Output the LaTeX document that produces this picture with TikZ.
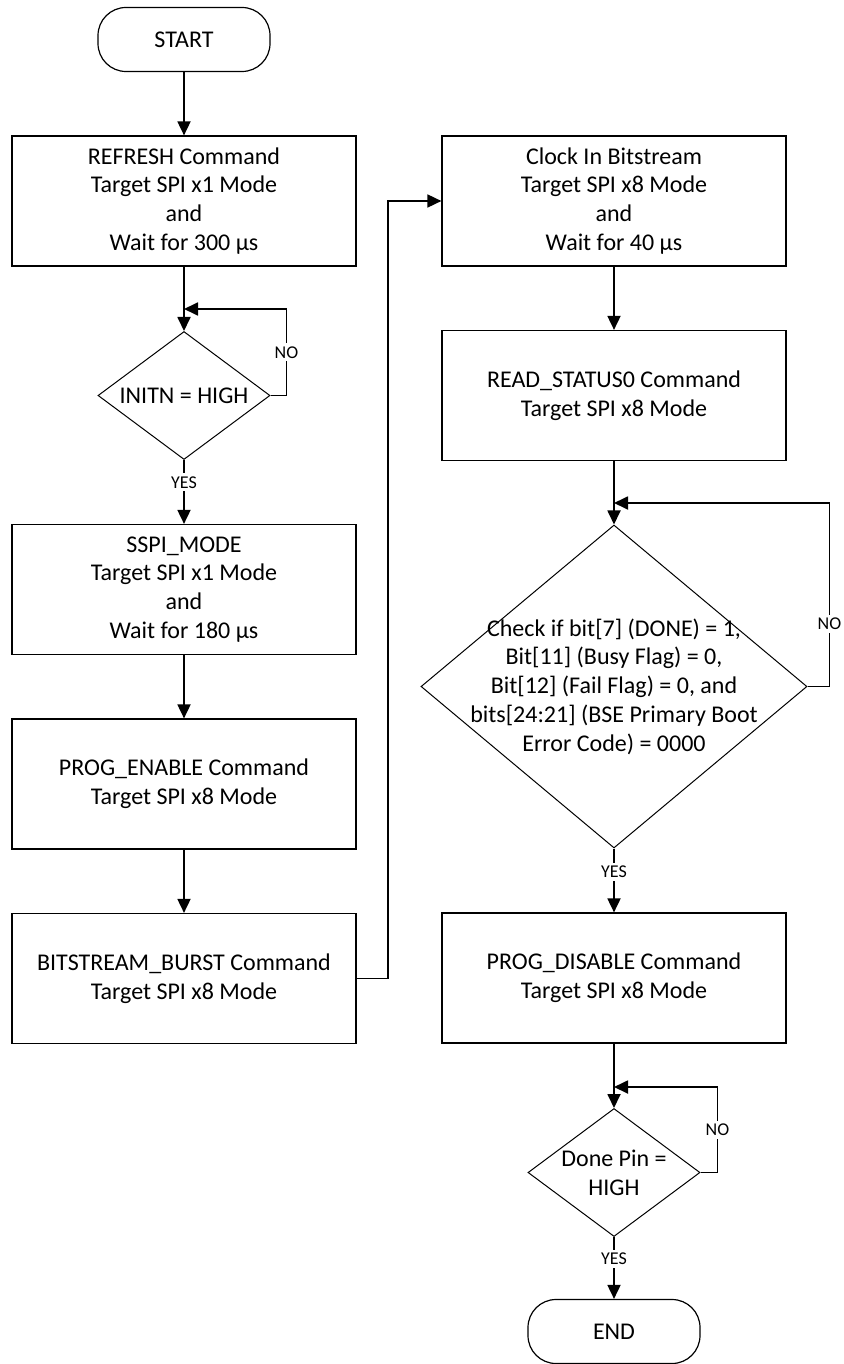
\documentclass[tikz,border=0pt]{standalone}
\usepackage{fontspec}
\setmainfont{Carlito}
\usepackage{tikz}
\usetikzlibrary{shapes.geometric}
\usetikzlibrary{arrows.meta}
\tikzset{txt/.style={align=center,font=\fontsize{12}{14.4}\selectfont},
         block/.style={txt,draw,line width=0.6pt,minimum width=172pt,minimum height=65pt},
         terminal/.style={block,rounded corners=14pt,minimum width=86pt,minimum height=32pt},
         decision/.style={txt,draw,line width=0.5pt,diamond,aspect=1.34,inner sep=0pt,minimum width=86pt,minimum height=64pt},
         arr/.style={-{Triangle[length=7pt,width=6.5pt]},line width=0.9pt},
         yesno/.style={fill=white,inner sep=1.5pt,font=\fontsize{9}{10}\selectfont}}

\begin{document}
\begin{tikzpicture}[x=0.5pt,y=-0.5pt]
\useasboundingbox (0,0) rectangle (843,1364);
\node[terminal] (start) at (184,39.5) {START};
\node[block] (refresh) at (184,201) {REFRESH Command\\Target SPI x1 Mode\\and\\Wait for 300 µs};
\node[decision] (initn) at (184,395.5) {INITN = HIGH};
\node[block] (sspi) at (184,589.5) {SSPI\_MODE\\Target SPI x1 Mode\\and\\Wait for 180 µs};
\node[block] (progen) at (184,784) {PROG\_ENABLE Command\\Target SPI x8 Mode};
\node[block] (burst) at (184,978.5) {BITSTREAM\_BURST Command\\Target SPI x8 Mode};
\node[block] (clock) at (614,201) {Clock In Bitstream\\Target SPI x8 Mode\\and\\Wait for 40 µs};
\node[block] (rdst) at (614,395.5) {READ\_STATUS0 Command\\Target SPI x8 Mode};
\node[decision,aspect=1.2,minimum width=193pt,minimum height=161.5pt] (chk) at (614,686.5) {};
\node[txt] (chktxt) at (chk) {Check if bit[7] (DONE) = 1,\\Bit[11] (Busy Flag) = 0,\\Bit[12] (Fail Flag) = 0, and\\bits[24:21] (BSE Primary Boot\\Error Code) = 0000};
\node[block] (pdis) at (614,978) {PROG\_DISABLE Command\\Target SPI x8 Mode};
\node[decision] (done) at (614,1172.5) {Done Pin =\\HIGH};
\node[terminal] (end) at (614,1331.5) {END};
\coordinate (initnin) at (184,309);
\coordinate (chkin) at (614,503);
\coordinate (donein) at (614,1087);
\foreach \a/\b in {start/refresh,refresh/initn,sspi/progen,progen/burst,clock/rdst,rdst/chk,pdis/done}
  \draw[arr] (\a)--(\b);
\draw[arr] (initn.east)--++(16,0) |- node[yesno,pos=0.25]{NO} (initnin);
\draw[arr] (initn.south)-- node[yesno,pos=0.35]{YES} (sspi.north);
\draw[arr] (burst.east)--++(31,0) |- (clock.west);
\draw[arr] (chk.east)--++(22,0) |- node[yesno,pos=0.17]{NO} (chkin);
\draw[arr] (chk.south)-- node[yesno,pos=0.37]{YES} (pdis.north);
\draw[arr] (done.east)--++(17,0) |- node[yesno,pos=0.25]{NO} (donein);
\draw[arr] (done.south)-- node[yesno,pos=0.35]{YES} (end.north);
\end{tikzpicture}
\end{document}
